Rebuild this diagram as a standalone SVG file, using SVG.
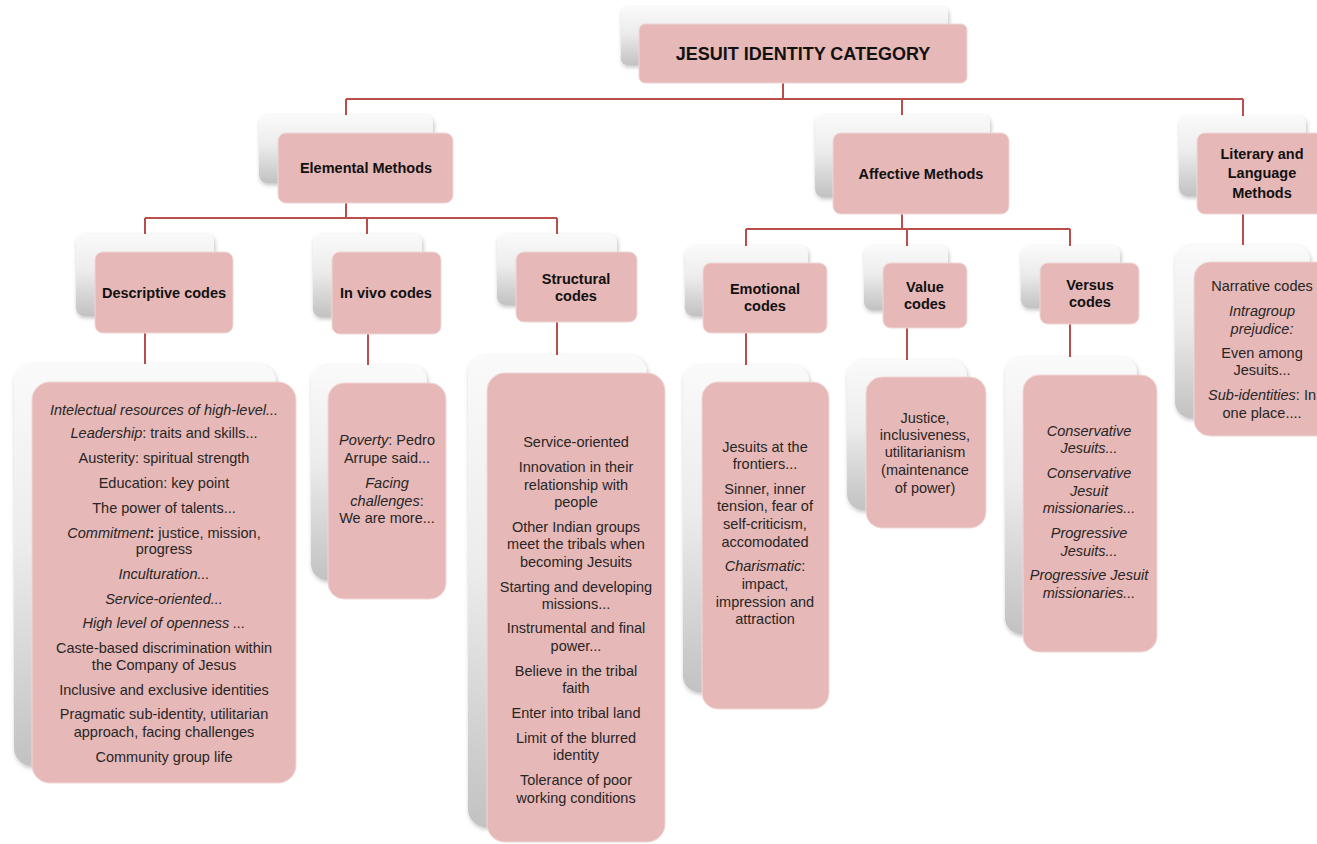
<svg xmlns="http://www.w3.org/2000/svg" width="1317" height="844" viewBox="0 0 1317 844">
<defs>
<linearGradient id="g" x1="0" y1="0" x2="0" y2="1">
<stop offset="0" stop-color="#fafafa"/>
<stop offset="0.45" stop-color="#ececec"/>
<stop offset="1" stop-color="#c2c2c2"/>
</linearGradient>
<filter id="ds" x="-10%" y="-10%" width="125%" height="125%">
<feDropShadow dx="1" dy="2" stdDeviation="2" flood-color="#000" flood-opacity="0.25"/>
</filter>
</defs>
<style>
.sh{fill:url(#g);filter:url(#ds)}
.bx{fill:#e6b8b7;stroke:#f0d6d5;stroke-width:1}
.ln{stroke:#bb4e4b;stroke-width:2;fill:none}
text{font-family:"Liberation Sans",Arial,sans-serif;text-anchor:middle}
.t{font-size:14.5px;fill:#262626}
.b{font-size:14.5px;font-weight:bold;fill:#111}
.i{font-style:italic}
.bd{font-weight:bold}
</style>
<rect width="1317" height="844" fill="#fff"/>
<g id="connectors">
<path class="ln" d="M783,83V99M346,99H1243M346,99V133M902,99V133M1243,99V131"/>
<path class="ln" d="M346,202V218M145,218H557M145,218V252M367,218V252M557,218V252"/>
<path class="ln" d="M145,333V382M368,334V383M557,322V373"/>
<path class="ln" d="M902,214V229M746,229H1070M746,229V263M907,229V263M1070,229V263"/>
<path class="ln" d="M746,333V382M907,328V377M1070,324V375M1243,212V262"/>
</g>
<g id="root">
<rect class="sh" x="621" y="7" width="327" height="58" rx="6"/>
<rect class="bx" x="639" y="24" width="328" height="59" rx="6"/>
<text x="803" y="60" style="font-size:18px;font-weight:bold;fill:#111">JESUIT IDENTITY CATEGORY</text>
</g>
<g id="elemental">
<rect class="sh" x="259" y="115" width="174" height="68" rx="8"/>
<rect class="bx" x="278" y="133" width="175" height="70" rx="8"/>
<text class="b" x="366" y="173">Elemental Methods</text>
</g>
<g id="descriptive">
<rect class="sh" x="76" y="234" width="138" height="82" rx="8"/>
<rect class="bx" x="95" y="252" width="138" height="81" rx="8"/>
<text class="b" x="164" y="298">Descriptive codes</text>
</g>
<g id="invivo">
<rect class="sh" x="313" y="234" width="109" height="83" rx="8"/>
<rect class="bx" x="332" y="252" width="109" height="82" rx="8"/>
<text class="b" x="386" y="298">In vivo codes</text>
</g>
<g id="structural">
<rect class="sh" x="497" y="234" width="120" height="71" rx="8"/>
<rect class="bx" x="516" y="252" width="121" height="70" rx="8"/>
<text class="b" x="576" y="284">Structural</text>
<text class="b" x="576" y="301">codes</text>
</g>
<g id="descriptive-content">
<rect class="sh" x="14" y="364" width="262" height="402" rx="18"/>
<rect class="bx" x="32" y="382" width="264" height="401" rx="18"/>
<text class="t" x="164" y="415"><tspan class="i">Intelectual resources of high-level...</tspan></text>
<text class="t" x="164" y="438"><tspan class="i">Leadership</tspan>: traits and skills...</text>
<text class="t" x="164" y="463">Austerity: spiritual strength</text>
<text class="t" x="164" y="488">Education: key point</text>
<text class="t" x="164" y="513">The power of talents...</text>
<text class="t" x="164" y="538"><tspan class="i">Commitment</tspan><tspan class="bd">:</tspan> justice, mission,</text>
<text class="t" x="164" y="554">progress</text>
<text class="t" x="164" y="579"><tspan class="i">Inculturation...</tspan></text>
<text class="t" x="164" y="604"><tspan class="i">Service-oriented...</tspan></text>
<text class="t" x="164" y="628"><tspan class="i">High level of openness ...</tspan></text>
<text class="t" x="164" y="653">Caste-based discrimination within</text>
<text class="t" x="164" y="670">the Company of Jesus</text>
<text class="t" x="164" y="695">Inclusive and exclusive identities</text>
<text class="t" x="164" y="719">Pragmatic sub-identity, utilitarian</text>
<text class="t" x="164" y="737">approach, facing challenges</text>
<text class="t" x="164" y="762">Community group life</text>
</g>
<g id="invivo-content">
<rect class="sh" x="311" y="365" width="116" height="215" rx="16"/>
<rect class="bx" x="328" y="383" width="118" height="216" rx="16"/>
<text class="t" x="387" y="445"><tspan class="i">Poverty</tspan>: Pedro</text>
<text class="t" x="387" y="463">Arrupe said...</text>
<text class="t" x="387" y="488"><tspan class="i">Facing</tspan></text>
<text class="t" x="387" y="506"><tspan class="i">challenges</tspan>:</text>
<text class="t" x="387" y="523">We are more...</text>
</g>
<g id="structural-content">
<rect class="sh" x="468" y="355" width="179" height="472" rx="18"/>
<rect class="bx" x="487" y="373" width="178" height="469" rx="18"/>
<text class="t" x="576" y="447">Service-oriented</text>
<text class="t" x="576" y="472">Innovation in their</text>
<text class="t" x="576" y="490">relationship with</text>
<text class="t" x="576" y="507">people</text>
<text class="t" x="576" y="532">Other Indian groups</text>
<text class="t" x="576" y="549">meet the tribals when</text>
<text class="t" x="576" y="567">becoming Jesuits</text>
<text class="t" x="576" y="592">Starting and developing</text>
<text class="t" x="576" y="609">missions...</text>
<text class="t" x="576" y="633">Instrumental and final</text>
<text class="t" x="576" y="651">power...</text>
<text class="t" x="576" y="676">Believe in the tribal</text>
<text class="t" x="576" y="693">faith</text>
<text class="t" x="576" y="718">Enter into tribal land</text>
<text class="t" x="576" y="743">Limit of the blurred</text>
<text class="t" x="576" y="760">identity</text>
<text class="t" x="576" y="785">Tolerance of poor</text>
<text class="t" x="576" y="803">working conditions</text>
</g>
<g id="affective">
<rect class="sh" x="815" y="115" width="175" height="82" rx="8"/>
<rect class="bx" x="833" y="133" width="176" height="81" rx="8"/>
<text class="b" x="921" y="179">Affective Methods</text>
</g>
<g id="emotional">
<rect class="sh" x="685" y="246" width="123" height="70" rx="8"/>
<rect class="bx" x="703" y="263" width="124" height="70" rx="8"/>
<text class="b" x="765" y="294">Emotional</text>
<text class="b" x="765" y="311">codes</text>
</g>
<g id="value">
<rect class="sh" x="864" y="246" width="84" height="64" rx="8"/>
<rect class="bx" x="883" y="263" width="84" height="65" rx="8"/>
<text class="b" x="925" y="292">Value</text>
<text class="b" x="925" y="309">codes</text>
</g>
<g id="versus">
<rect class="sh" x="1021" y="246" width="99" height="62" rx="8"/>
<rect class="bx" x="1040" y="263" width="99" height="61" rx="8"/>
<text class="b" x="1090" y="290">Versus</text>
<text class="b" x="1090" y="307">codes</text>
</g>
<g id="emotional-content">
<rect class="sh" x="683" y="365" width="126" height="327" rx="16"/>
<rect class="bx" x="702" y="382" width="127" height="327" rx="16"/>
<text class="t" x="765" y="452">Jesuits at the</text>
<text class="t" x="765" y="469">frontiers...</text>
<text class="t" x="765" y="494">Sinner, inner</text>
<text class="t" x="765" y="511">tension, fear of</text>
<text class="t" x="765" y="529">self-criticism,</text>
<text class="t" x="765" y="547">accomodated</text>
<text class="t" x="765" y="571"><tspan class="i">Charismatic</tspan>:</text>
<text class="t" x="765" y="589">impact,</text>
<text class="t" x="765" y="607">impression and</text>
<text class="t" x="765" y="624">attraction</text>
</g>
<g id="value-content">
<rect class="sh" x="847" y="360" width="120" height="150" rx="16"/>
<rect class="bx" x="866" y="377" width="120" height="151" rx="16"/>
<text class="t" x="925" y="423">Justice,</text>
<text class="t" x="925" y="440">inclusiveness,</text>
<text class="t" x="925" y="457">utilitarianism</text>
<text class="t" x="925" y="475">(maintenance</text>
<text class="t" x="925" y="493">of power)</text>
</g>
<g id="versus-content">
<rect class="sh" x="1005" y="357" width="132" height="277" rx="16"/>
<rect class="bx" x="1023" y="375" width="134" height="277" rx="16"/>
<text class="t i" x="1089" y="436">Conservative</text>
<text class="t i" x="1089" y="453">Jesuits...</text>
<text class="t i" x="1089" y="478">Conservative</text>
<text class="t i" x="1089" y="496">Jesuit</text>
<text class="t i" x="1089" y="513">missionaries...</text>
<text class="t i" x="1089" y="538">Progressive</text>
<text class="t i" x="1089" y="556">Jesuits...</text>
<text class="t i" x="1089" y="580">Progressive Jesuit</text>
<text class="t i" x="1089" y="598">missionaries...</text>
</g>
<g id="literary">
<rect class="sh" x="1179" y="116" width="127" height="80" rx="8"/>
<rect class="bx" x="1197" y="133" width="140" height="81" rx="8"/>
<text class="b" x="1262" y="159">Literary and</text>
<text class="b" x="1262" y="178">Language</text>
<text class="b" x="1262" y="198">Methods</text>
</g>
<g id="literary-content">
<rect class="sh" x="1175" y="245" width="135" height="173" rx="16"/>
<rect class="bx" x="1194" y="262" width="140" height="174" rx="16"/>
<text class="t" x="1262" y="291">Narrative codes</text>
<text class="t i" x="1262" y="316">Intragroup</text>
<text class="t i" x="1262" y="334">prejudice:</text>
<text class="t" x="1262" y="358">Even among</text>
<text class="t" x="1262" y="375">Jesuits...</text>
<text class="t" x="1262" y="400"><tspan class="i">Sub-identities</tspan>: In</text>
<text class="t" x="1262" y="418">one place....</text>
</g>
</svg>
